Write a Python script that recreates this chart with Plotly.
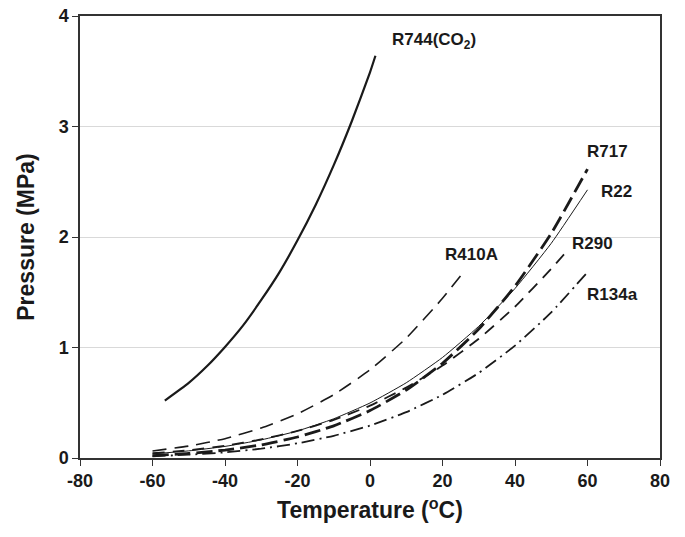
import plotly.graph_objects as go

# Saturation pressure curves (Temperature degC, Pressure MPa)
t_r744 = [-56.6, -50, -45, -40, -35, -30, -25, -20, -15, -10, -5, 0, 1.5]
p_r744 = [0.52, 0.68, 0.83, 1.005, 1.20, 1.43, 1.68, 1.97, 2.29, 2.65, 3.05, 3.49, 3.64]

t_r410a = [-60, -50, -40, -30, -20, -10, 0, 10, 20, 25]
p_r410a = [0.064, 0.108, 0.175, 0.272, 0.40, 0.573, 0.798, 1.085, 1.445, 1.65]

t_r717 = [-60, -50, -40, -30, -20, -10, 0, 10, 20, 30, 40, 50, 60]
p_r717 = [0.022, 0.041, 0.072, 0.119, 0.190, 0.291, 0.429, 0.615, 0.857, 1.167, 1.555, 2.033, 2.614]

t_r22 = [-60, -50, -40, -30, -20, -10, 0, 10, 20, 30, 40, 50, 60]
p_r22 = [0.0375, 0.0645, 0.105, 0.164, 0.245, 0.355, 0.498, 0.681, 0.910, 1.192, 1.534, 1.943, 2.427]

t_r290 = [-60, -50, -40, -30, -20, -10, 0, 10, 20, 30, 40, 50, 54]
p_r290 = [0.043, 0.070, 0.111, 0.168, 0.245, 0.345, 0.474, 0.637, 0.836, 1.079, 1.369, 1.713, 1.86]

t_r134a = [-60, -50, -40, -30, -20, -10, 0, 10, 20, 30, 40, 50, 60]
p_r134a = [0.016, 0.030, 0.051, 0.084, 0.133, 0.201, 0.293, 0.415, 0.572, 0.770, 1.017, 1.318, 1.682]

labels = ["R744(CO<sub>2</sub>)", "R717", "R22", "R290", "R410A", "R134a"]
label_t = [17.7, 65.4, 67.9, 61.5, 27.9, 66.8]
label_p = [3.77, 2.77, 2.41, 1.94, 1.84, 1.48]

x_ticks = [-80, -60, -40, -20, 0, 20, 40, 60, 80]
y_ticks = [0, 1, 2, 3, 4]

FONT = "Liberation Sans, Arial, sans-serif"
C = "#1a1a1a"

fig = go.Figure()
series = [
    (t_r744, p_r744, dict(color=C, width=2.2, dash="solid")),
    (t_r410a, p_r410a, dict(color=C, width=1.6, dash="14px,8px")),
    (t_r717, p_r717, dict(color=C, width=2.8, dash="16px,6px")),
    (t_r22, p_r22, dict(color=C, width=1.0, dash="solid")),
    (t_r290, p_r290, dict(color=C, width=1.8, dash="12px,8px")),
    (t_r134a, p_r134a, dict(color=C, width=1.8, dash="13px,5px,2px,5px")),
]
for xs, ys, ln in series:
    fig.add_trace(go.Scatter(x=xs, y=ys, mode="lines", line=dict(shape="spline", smoothing=0.5, **ln),
                             showlegend=False, hoverinfo="skip"))

for txt, tx, py in zip(labels, label_t, label_p):
    fig.add_annotation(x=tx, y=py, xref="x", yref="y", text=txt, showarrow=False,
                       font=dict(family=FONT, size=17, color=C, weight="bold"))

fig.update_layout(
    width=685, height=537,
    margin=dict(l=80, r=25, t=16, b=79),
    paper_bgcolor="white", plot_bgcolor="white",
    font=dict(family=FONT, color=C),
)
fig.update_xaxes(
    range=[-80, 80], tickvals=x_ticks, ticktext=[str(v) for v in x_ticks],
    showline=True, linecolor="#333333", linewidth=1.5, mirror=True,
    ticks="outside", ticklen=6, tickcolor="#333333", tickwidth=1.2,
    showgrid=False, zeroline=False, automargin=False, ticklabeloverflow="allow",
    tickfont=dict(family=FONT, size=18, color=C, weight="bold"),
    title=dict(text="Temperature (<sup>o</sup>C)", font=dict(family=FONT, size=23, color=C, weight="bold"), standoff=12),
)
fig.update_yaxes(
    range=[0, 4], tickvals=y_ticks, ticktext=[str(v) for v in y_ticks],
    showline=True, linecolor="#333333", linewidth=1.5, mirror=True,
    ticks="outside", ticklen=6, tickcolor="#333333", tickwidth=1.2,
    showgrid=True, gridcolor="#d9d9d9", gridwidth=1, zeroline=False, automargin=False,
    ticklabeloverflow="allow",
    tickfont=dict(family=FONT, size=18, color=C, weight="bold"),
    title=dict(text="Pressure (MPa)", font=dict(family=FONT, size=23, color=C, weight="bold"), standoff=18),
)

# remove the default 8px page margin so the figure fills the window exactly
fig.write_html("out.html", config={"displayModeBar": False},
               post_script="document.body.style.margin='0';")
